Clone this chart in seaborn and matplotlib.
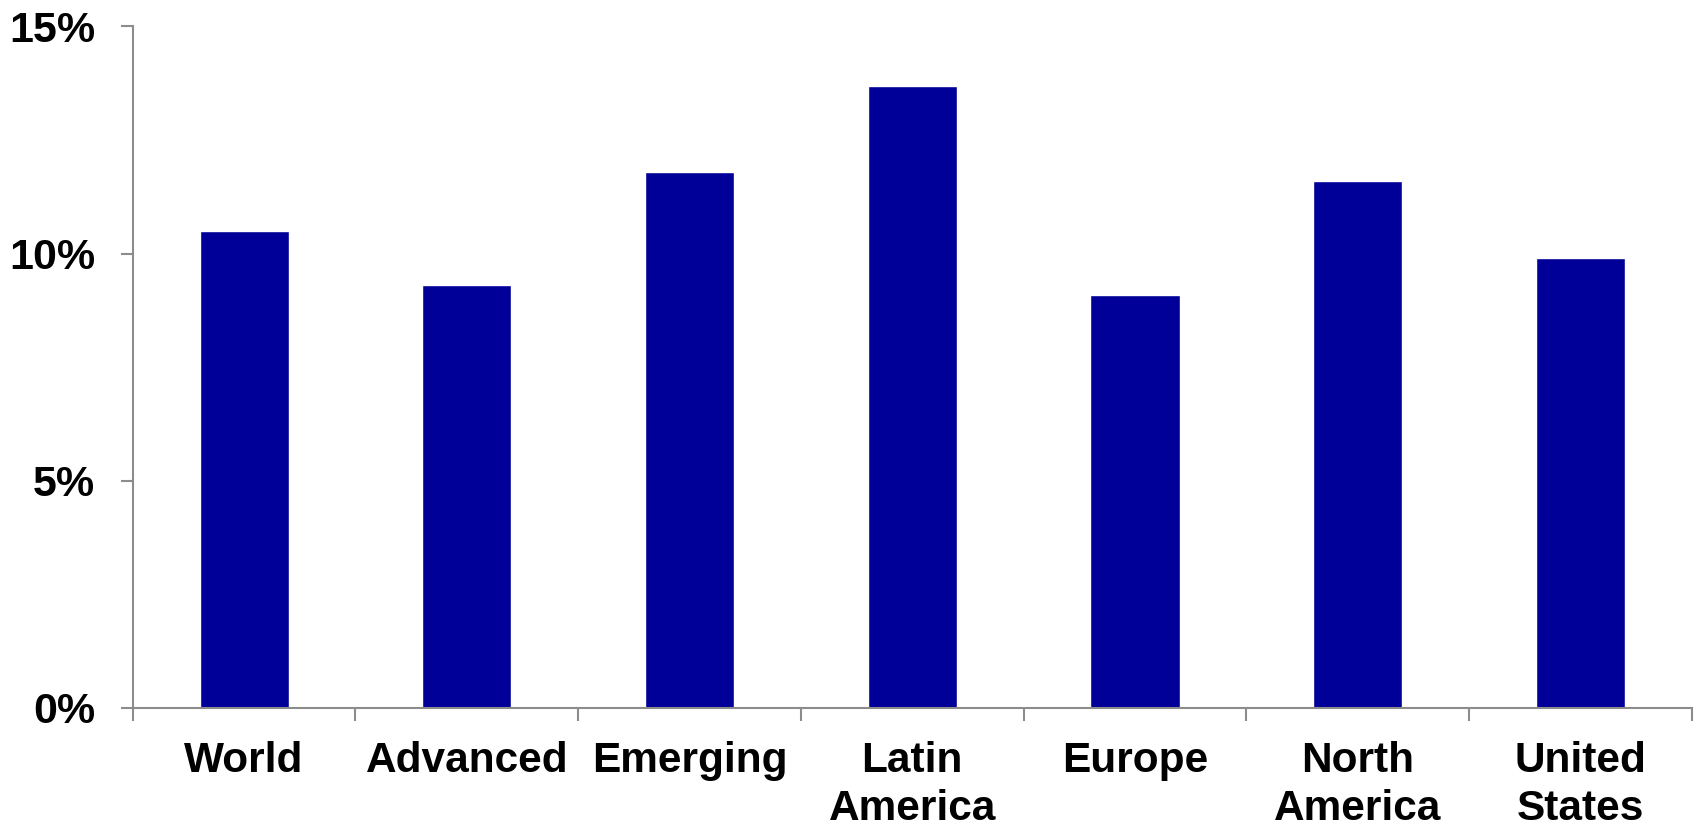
import matplotlib
matplotlib.use("Agg")
import matplotlib.pyplot as plt
import seaborn as sns
import pandas as pd
import numpy as np
from matplotlib.ticker import FixedLocator

regions = ["World", "Advanced", "Emerging", "Latin\nAmerica", "Europe", "North\nAmerica", "United\nStates"]
values = [10.5, 9.3, 11.8, 13.7, 9.1, 11.6, 9.9]
yticks = [0, 5, 10, 15]
ytick_labels = ["0%", "5%", "10%", "15%"]

sns.set_style("white")
plt.rcParams['font.family'] = ['Liberation Sans', 'DejaVu Sans']
plt.rcParams['text.color'] = 'black'
plt.rcParams['xtick.labelcolor'] = 'black'
plt.rcParams['ytick.labelcolor'] = 'black'

df = pd.DataFrame({'region': regions, 'value': values})

fig = plt.figure(figsize=(17.02, 8.27), dpi=100)
ax = fig.add_axes([0.078, 0.144, 0.916, 0.824])
sns.barplot(data=df, x='region', y='value', color='#000099', saturation=1,
            width=0.4, ax=ax)

ax.set_xlim(-0.5, len(regions) - 0.5)
ax.set_ylim(0, 15)
ax.set_yticks(yticks)
ax.set_yticklabels(ytick_labels, fontsize=31, fontweight='bold', color='black')
ax.set_xticklabels(regions, fontsize=30.5, fontweight='bold', linespacing=1.25, color='black')
ax.set_xlabel("")
ax.set_ylabel("")

grey = '#8c8c8c'
for side in ['top', 'right']:
    ax.spines[side].set_visible(False)
for side in ['left', 'bottom']:
    ax.spines[side].set_color(grey)
    ax.spines[side].set_linewidth(1.5)

# category boundaries as minor ticks, hide major x ticks
ax.xaxis.set_minor_locator(FixedLocator(np.arange(-0.5, len(regions), 1.0)))
ax.tick_params(axis='x', which='major', length=0, pad=24)
ax.tick_params(axis='x', which='minor', length=9, width=1.5, color=grey, direction='out', bottom=True)
ax.tick_params(axis='y', which='major', length=9, width=1.5, color=grey, direction='out', left=True, pad=18)

fig.savefig("out.png", dpi=100)
